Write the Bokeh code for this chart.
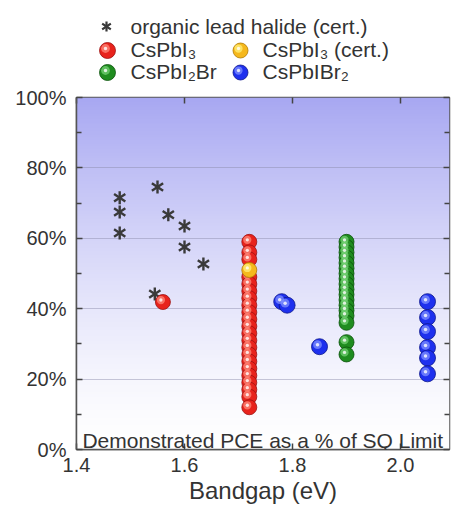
import numpy as np
from bokeh.plotting import figure
from bokeh.layouts import column
from bokeh.models import (Range1d, FixedTicker, PrintfTickFormatter, LinearAxis, Label)
from bokeh.embed import file_html
from bokeh.resources import INLINE

# ---------------- data ----------------
organic_x = [1.48, 1.48, 1.48, 1.55, 1.57, 1.60, 1.60, 1.635, 1.545]
organic_y = [71.5, 67.5, 61.5, 74.6, 66.7, 63.5, 57.5, 52.7, 44.2]

cspbi3_x = [1.56] + [1.72] * 22
cspbi3_y = [41.9, 59.0, 56.0, 54.0, 49.0, 47.0, 45.0, 43.0, 41.0, 39.0, 37.0, 35.0,
            33.0, 31.0, 29.0, 27.0, 25.0, 23.0, 21.0, 19.0, 17.0, 15.0, 12.0]

cert_x = [1.72]
cert_y = [51.0]

cspbi2br_x = [1.90] * 18
cspbi2br_y = [59.0, 57.5, 56.0, 54.5, 53.0, 51.5, 50.0, 48.5, 47.0, 45.5, 44.0,
              42.5, 41.0, 39.5, 38.0, 36.0, 30.5, 27.0]

cspbibr2_x = [1.78, 1.79, 1.85, 2.05, 2.05, 2.05, 2.05, 2.05, 2.05]
cspbibr2_y = [42.0, 41.0, 29.2, 42.0, 37.5, 33.5, 29.0, 26.0, 21.5]

x_ticks = [1.4, 1.6, 1.8, 2.0]
y_ticks = [0, 20, 40, 60, 80, 100]
y_minor = [10, 30, 50, 70, 90]

FONT = "Liberation Sans"
TXT = "#333333"

W = 451
LH = 85
BL, BR = 76, 2

# ---------------- legend figure (coordinates in page pixels) ----------------
leg = figure(width=W, height=LH, x_range=Range1d(BL, W - BR), y_range=Range1d(LH, 0),
             toolbar_location=None, output_backend="svg",
             min_border_left=BL, min_border_right=BR, min_border_top=0, min_border_bottom=0,
             outline_line_color=None)
leg.axis.visible = False
leg.grid.visible = False
leg.background_fill_color = "white"


def ball(fig, xs, ys, base, dark, light, size, dx, dy):
    fig.scatter(xs, ys, size=size, fill_color=base, line_color=dark, line_width=0.8)
    hx = [x + dx for x in xs]
    hy = [y + dy for y in ys]
    fig.scatter(hx, hy, size=size * 0.55, fill_color=light, line_color=None, fill_alpha=0.75)
    fig.scatter(hx, hy, size=size * 0.22, fill_color="white", line_color=None, fill_alpha=0.8)


def star(fig, xs, ys, size, lw=2.4):
    fig.scatter(xs, ys, marker="y", size=size, line_color="#3a3a3a", line_width=lw, angle=0)
    fig.scatter(xs, ys, marker="y", size=size, line_color="#3a3a3a", line_width=lw, angle=np.pi)


RED = ("#e8231c", "#9c1010", "#ff8a7a")
YEL = ("#f5b81c", "#b07a00", "#fff07a")
GRN = ("#1f8c1f", "#0b520b", "#74d074")
BLU = ("#1e30ee", "#0c168c", "#8090ff")

star(leg, [106], [26], 10, 2.2)
ball(leg, [107], [50], *RED, 16, -2, -2)
ball(leg, [240], [50], *YEL, 15, -2, -2)
ball(leg, [107], [72], *GRN, 16, -2, -2)
ball(leg, [240], [72], *BLU, 15, -2, -2)

leg_items = [("organic lead halide (cert.)", 130, 26), ("CsPbI₃", 130, 49),
             ("CsPbI₃ (cert.)", 262, 49), ("CsPbI₂Br", 130, 71), ("CsPbIBr₂", 262, 71)]
for t, x, y in leg_items:
    leg.add_layout(Label(x=x, y=y, text=t, text_font=FONT, text_font_size="21px",
                         text_color=TXT, text_baseline="middle", text_align="left"))

# ---------------- main figure ----------------
MH = 511 - LH
p = figure(width=W, height=MH, x_range=Range1d(1.4, 2.0907), y_range=Range1d(0, 100),
           toolbar_location=None, output_backend="svg",
           min_border_left=BL, min_border_right=BR, min_border_top=12, min_border_bottom=62)
p.background_fill_color = "white"
p.border_fill_color = "white"
p.outline_line_color = "#555555"
p.outline_line_width = 1.5

# vertical gradient background
n = 200
t = np.linspace(0, 1, n)
w = t ** 1.4
top = np.array([168, 168, 242])
cols = (255 * (1 - w[:, None]) + top[None, :] * w[:, None]).astype(np.uint32)
img = np.empty((n, 1), dtype=np.uint32)
view = img.view(dtype=np.uint8).reshape((n, 1, 4))
view[:, 0, 0] = cols[:, 0]
view[:, 0, 1] = cols[:, 1]
view[:, 0, 2] = cols[:, 2]
view[:, 0, 3] = 255
p.image_rgba(image=[img], x=1.4, y=0, dw=0.6907, dh=100, level="image")

# grid
p.xgrid.visible = False
p.ygrid.ticker = FixedTicker(ticks=[20, 40, 60, 80])
p.ygrid.grid_line_color = "#8a8aa8"
p.ygrid.grid_line_alpha = 0.45
p.ygrid.grid_line_width = 1

# axes
p.xaxis.ticker = FixedTicker(ticks=x_ticks)
p.xaxis.formatter = PrintfTickFormatter(format="%.1f")
p.yaxis.ticker = FixedTicker(ticks=y_ticks, minor_ticks=y_minor)
p.yaxis.formatter = PrintfTickFormatter(format="%d%%")
for ax in (p.xaxis[0], p.yaxis[0]):
    ax.axis_line_color = "#555555"
    ax.axis_line_width = 1.5
    ax.major_tick_in = 6
    ax.major_tick_out = 0
    ax.minor_tick_in = 5
    ax.minor_tick_out = 0
    ax.major_tick_line_color = "#444444"
    ax.minor_tick_line_color = "#444444"
    ax.major_tick_line_width = 1.5
    ax.minor_tick_line_width = 1.5
    ax.major_label_text_font = FONT
    ax.major_label_text_font_size = "20px"
    ax.major_label_text_color = TXT
p.yaxis.major_label_standoff = 10
p.xaxis.major_label_standoff = 8
p.xaxis.minor_tick_line_color = None
p.xaxis.axis_label = "Bandgap (eV)"
p.xaxis.axis_label_text_font = FONT
p.xaxis.axis_label_text_font_size = "24px"
p.xaxis.axis_label_text_font_style = "normal"
p.xaxis.axis_label_text_color = TXT
p.xaxis.axis_label_standoff = 2

r_ax = LinearAxis(ticker=FixedTicker(ticks=y_ticks, minor_ticks=y_minor),
                  major_label_overrides={v: "" for v in y_ticks},
                  major_tick_in=6, major_tick_out=0,
                  minor_tick_in=5, minor_tick_out=0, axis_line_color=None,
                  major_tick_line_color="#444444", minor_tick_line_color="#444444",
                  major_label_standoff=0, major_tick_line_width=1.5, minor_tick_line_width=1.5)
t_ax = LinearAxis(ticker=FixedTicker(ticks=x_ticks),
                  major_label_overrides={v: "" for v in x_ticks},
                  major_tick_in=6, major_tick_out=0, minor_tick_line_color=None,
                  axis_line_color=None, major_tick_line_color="#444444",
                  major_label_standoff=0, major_tick_line_width=1.5)
p.add_layout(r_ax, "right")
p.add_layout(t_ax, "above")

# data marks
DX = -2 / 540.0
DY = 2 / 3.51
star(p, organic_x, organic_y, 13)
ball(p, cspbi3_x, cspbi3_y, *RED, 15, DX, DY)
ball(p, cert_x, cert_y, *YEL, 15, DX, DY)
ball(p, cspbi2br_x, cspbi2br_y, *GRN, 15, DX, DY)
ball(p, cspbibr2_x, cspbibr2_y, *BLU, 16, DX, DY)

p.add_layout(Label(x=1.411, y=2.6, text="Demonstrated PCE as a % of SQ Limit",
                   text_font=FONT, text_font_size="21px", text_color=TXT,
                   text_baseline="alphabetic", text_align="left"))

layout = column(leg, p, spacing=0)
open("out.html", "w").write(file_html(layout, INLINE))
